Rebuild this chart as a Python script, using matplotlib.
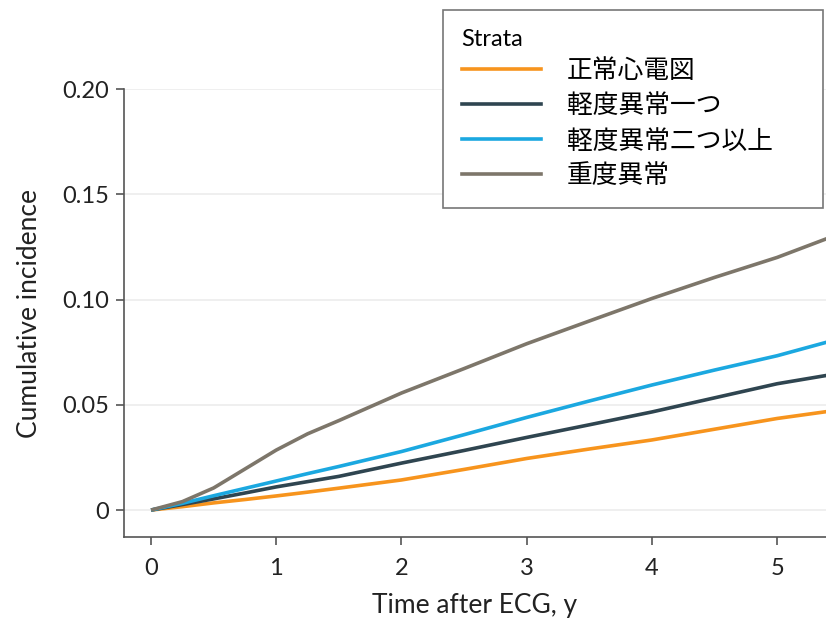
import matplotlib
matplotlib.use("Agg")
import matplotlib.pyplot as plt
from matplotlib.lines import Line2D

# ---- data ----
t = [0, 0.25, 0.5, 0.75, 1, 1.25, 1.5, 2, 2.5, 3, 3.5, 4, 4.5, 5, 5.4]
normal = [0, 0.0016, 0.0034, 0.005, 0.0067, 0.0085, 0.0104, 0.0143, 0.0193, 0.0245, 0.029, 0.0333, 0.0384, 0.0435, 0.0468]
minor_one = [0, 0.0026, 0.0053, 0.0081, 0.011, 0.0135, 0.016, 0.0223, 0.0283, 0.0345, 0.0405, 0.0466, 0.0533, 0.0600, 0.064]
minor_two = [0, 0.0032, 0.0068, 0.0103, 0.0138, 0.0173, 0.0207, 0.0278, 0.0358, 0.0440, 0.0518, 0.0594, 0.0665, 0.0733, 0.0798]
major = [0, 0.004, 0.0105, 0.0195, 0.0285, 0.0362, 0.0425, 0.0556, 0.0672, 0.079, 0.0898, 0.1005, 0.1105, 0.120, 0.129]

labels = ["正常心電図", "軽度異常一つ", "軽度異常二つ以上", "重度異常"]
colors = ["#f7941d", "#2f4550", "#1ba8e0", "#7d766a"]
series = [normal, minor_one, minor_two, major]

yticks = [0, 0.05, 0.10, 0.15, 0.20]
yticklabels = ["0", "0.05", "0.10", "0.15", "0.20"]
xticks = [0, 1, 2, 3, 4, 5]

plt.rcParams['font.family'] = ['Lato', 'DejaVu Sans']

fig = plt.figure(figsize=(8.26, 6.2), dpi=100)
ax = fig.add_axes([124/826, (620-537)/620, 1 - 124/826, (537-89)/620])

for s, c in zip(series, colors):
    ax.plot(t, s, color=c, lw=2.6, solid_capstyle='butt', solid_joinstyle='round', zorder=3)

ax.set_xlim(-0.216, 5.39)
ax.set_ylim(-0.0128, 0.20)
ax.set_yticks(yticks)
ax.set_yticklabels(yticklabels)
ax.set_xticks(xticks)
ax.grid(axis='y', color='#ececec', lw=1.2, zorder=0)
ax.set_axisbelow(True)
for sp in ['top', 'right']:
    ax.spines[sp].set_visible(False)
for sp in ['left', 'bottom']:
    ax.spines[sp].set_color('#555555')
    ax.spines[sp].set_linewidth(1.2)
ax.tick_params(axis='both', colors='#555555', labelcolor='#222222', labelsize=17, length=6, width=1.2)
ax.tick_params(axis='x', pad=9)
ax.tick_params(axis='y', pad=5)
ax.set_xlabel("Time after ECG, y", fontsize=19, color='#222222', labelpad=10)
ax.set_ylabel("Cumulative incidence", fontsize=19, color='#222222', labelpad=14)

handles = [Line2D([], [], color=c, lw=2.6) for c in colors]
leg = fig.legend(handles, labels, title="Strata", loc='upper left',
                 bbox_to_anchor=(443/826, (620-208)/620, (823-443)/826, (208-10)/620),
                 mode='expand', fancybox=False,
                 framealpha=1, edgecolor='#777777',
                 prop={'family': ['Noto Sans CJK JP', 'DejaVu Sans'], 'size': 18.5},
                 handlelength=3.1, handletextpad=1.0, labelspacing=0.35,
                 borderpad=0.72, borderaxespad=0)
leg.get_title().set_fontsize(17)
leg.get_title().set_family(['Lato', 'DejaVu Sans'])
leg._legend_box.align = "left"
leg.get_frame().set_linewidth(1.2)

fig.savefig("out.png", dpi=100)
